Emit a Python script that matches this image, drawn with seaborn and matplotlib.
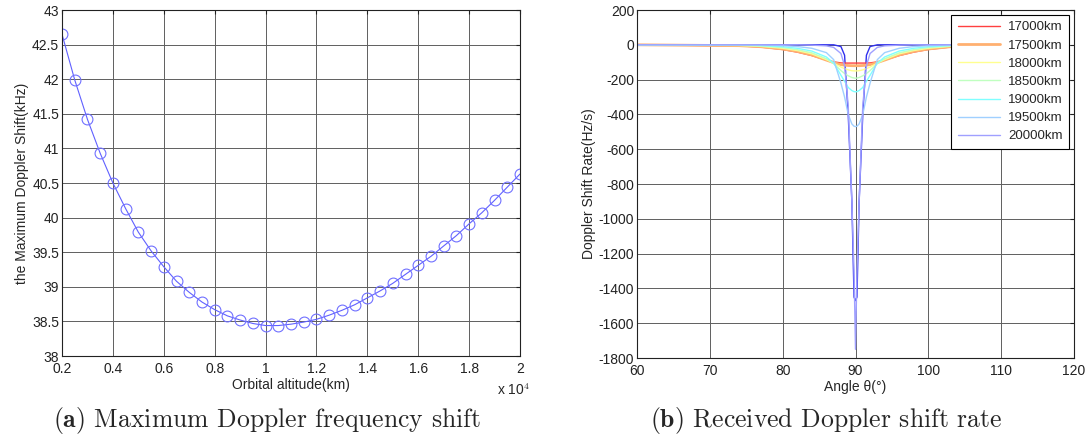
import numpy as np
import pandas as pd
import matplotlib
matplotlib.use("Agg")
import matplotlib.pyplot as plt
from matplotlib.ticker import FuncFormatter
import seaborn as sns

# -----------------------------
# Data
# -----------------------------
altitude_km = [2000, 2500, 3000, 3500, 4000, 4500, 5000, 5500, 6000, 6500,
               7000, 7500, 8000, 8500, 9000, 9500, 10000, 10500, 11000, 11500,
               12000, 12500, 13000, 13500, 14000, 14500, 15000, 15500, 16000, 16500,
               17000, 17500, 18000, 18500, 19000, 19500, 20000]
max_shift_khz = [42.65, 41.99, 41.42, 40.93, 40.50, 40.13, 39.79, 39.52, 39.29, 39.08,
                 38.92, 38.78, 38.67, 38.58, 38.52, 38.47, 38.44, 38.44, 38.46, 38.49,
                 38.53, 38.59, 38.66, 38.74, 38.84, 38.94, 39.05, 39.18, 39.31, 39.44,
                 39.59, 39.74, 39.91, 40.07, 40.25, 40.44, 40.63]

angles = [60, 74, 77, 80, 82, 84, 86, 87, 88, 88.5, 89, 89.5, 89.8, 90,
          90.2, 90.5, 91, 91.5, 92, 93, 94, 96, 98, 100, 103, 106]
rate_17000 = [0, -6, -13, -27, -42, -62, -88, -98, -104, -105, -105, -105, -105, -105,
              -105, -105, -105, -105, -104, -98, -88, -62, -42, -27, -13, -6]
rate_17500 = [0, -5, -11, -24, -38, -58, -88, -102, -114, -117, -119, -120, -120, -120,
              -120, -120, -119, -117, -114, -102, -88, -58, -38, -24, -11, -5]
rate_18000 = [0, -4, -9, -20, -33, -52, -85, -105, -128, -137, -144, -149, -150, -150,
              -150, -149, -144, -137, -128, -105, -85, -52, -33, -20, -9, -4]
rate_18500 = [0, -3, -7, -16, -28, -46, -80, -108, -148, -165, -178, -188, -191, -192,
              -191, -188, -178, -165, -148, -108, -80, -46, -28, -16, -7, -3]
rate_19000 = [0, -1, -4, -11, -20, -36, -70, -105, -175, -210, -245, -263, -269, -270,
              -269, -263, -245, -210, -175, -105, -70, -36, -20, -11, -4, -1]
rate_19500 = [0, 0, -1, -5, -10, -20, -45, -85, -220, -300, -400, -455, -468, -470,
              -468, -455, -400, -300, -220, -85, -45, -20, -10, -5, -1, 0]
rate_20000 = [0, 0, 0, 0, 0, -2, -6, -15, -50, -120, -350, -900, -1300, -1750,
              -1300, -900, -350, -120, -50, -15, -6, -2, 0, 0, 0, 0]
rate_extra = [0, 0, 0, 0, 0, 0, 0, 0, -10, -60, -400, -900, -1450, -1470,
              -1450, -900, -400, -60, -10, 0, 0, 0, 0, 0, 0, 0]

series_names = ["17000km", "17500km", "18000km", "18500km", "19000km", "19500km", "20000km", "extra"]
series_rates = [rate_17000, rate_17500, rate_18000, rate_18500, rate_19000, rate_19500, rate_20000, rate_extra]
series_colors = ["#ff4040", "#ffb070", "#ffff90", "#c0ffc0", "#80ffff", "#a0d0ff", "#a0a0ff", "#3030ee"]
series_widths = [1.0, 2.0, 1.0, 1.0, 1.0, 1.0, 1.0, 1.0]
series_order = [7, 0, 1, 2, 3, 4, 5, 6]

# -----------------------------
# Style
# -----------------------------
sns.set_theme(style="white")
plt.rcParams["font.family"] = ["Liberation Sans", "DejaVu Sans"]
plt.rcParams["axes.unicode_minus"] = False
plt.rcParams["mathtext.fontset"] = "cm"

fig = plt.figure(figsize=(10.91, 4.41), dpi=100)
ax1 = fig.add_axes([62 / 1091, 1 - 356 / 441, 458 / 1091, 346 / 441])
ax2 = fig.add_axes([637 / 1091, 1 - 358 / 441, 437 / 1091, 348 / 441])

grid_kw = dict(color="#5f5f5f", linewidth=0.7, linestyle="-")
fmt = FuncFormatter(lambda v, p: "%g" % v)

# -----------------------------
# (a) Maximum Doppler shift
# -----------------------------
sns.lineplot(x=np.array(altitude_km) / 1e4, y=max_shift_khz, ax=ax1,
             color="#6060ff", linewidth=0.8, marker="o", markersize=7.8,
             markerfacecolor="none", markeredgecolor="#7070ff", markeredgewidth=0.8)
ax1.set_xlim(0.2, 2.0)
ax1.set_ylim(38, 43)
ax1.set_xticks(np.arange(0.2, 2.01, 0.2))
ax1.set_yticks(np.arange(38, 43.01, 0.5))
ax1.xaxis.set_major_formatter(fmt)
ax1.yaxis.set_major_formatter(fmt)
ax1.grid(True, **grid_kw)
ax1.set_xlabel("Orbital altitude(km)", fontsize=10, labelpad=2)
ax1.set_ylabel("the Maximum Doppler Shift(kHz)", fontsize=10, labelpad=2)
fig.text(497 / 1091, 1 - 390 / 441, r"x 10$^{4}$", fontsize=10, va="center")

# -----------------------------
# (b) Doppler shift rate
# -----------------------------
for i in series_order:
    name = series_names[i]
    label = name if name != "extra" else "_nolegend_"
    sns.lineplot(x=angles, y=series_rates[i], ax=ax2, color=series_colors[i],
                 linewidth=series_widths[i], label=label, sort=False, estimator=None)
ax2.set_xlim(60, 120)
ax2.set_ylim(-1800, 200)
ax2.set_xticks(np.arange(60, 121, 10))
ax2.set_yticks(np.arange(-1800, 201, 200))
ax2.grid(True, **grid_kw)
ax2.set_xlabel("Angle θ(°)", fontsize=10, labelpad=2)
ax2.set_ylabel("Doppler Shift Rate(Hz/s)", fontsize=10, labelpad=2)
leg = ax2.legend(loc="upper right", fontsize=9.5, frameon=True, fancybox=False,
                 edgecolor="black", framealpha=1, borderaxespad=0.35,
                 handlelength=3.2, handletextpad=0.6, labelspacing=0.45, borderpad=0.5)
leg.get_frame().set_linewidth(0.8)
leg.set_zorder(5)

for ax in (ax1, ax2):
    ax.tick_params(direction="in", top=True, right=True, length=3, width=0.8,
                   labelsize=10, colors="#222222")
    ax.tick_params(axis="x", pad=4)
    ax.tick_params(axis="y", pad=2)
    for s in ax.spines.values():
        s.set_color("#222222")
        s.set_linewidth(0.8)

# -----------------------------
# Captions
# -----------------------------
fig.text(267 / 1091, 1 - 421 / 441, r"$\mathbf{(a)}$ Maximum Doppler frequency shift",
         family="cmr10", fontsize=18.5, ha="center", va="center")
fig.text(826 / 1091, 1 - 421 / 441, r"$\mathbf{(b)}$ Received Doppler shift rate",
         family="cmr10", fontsize=18.5, ha="center", va="center")

fig.savefig("out.png", dpi=100)
